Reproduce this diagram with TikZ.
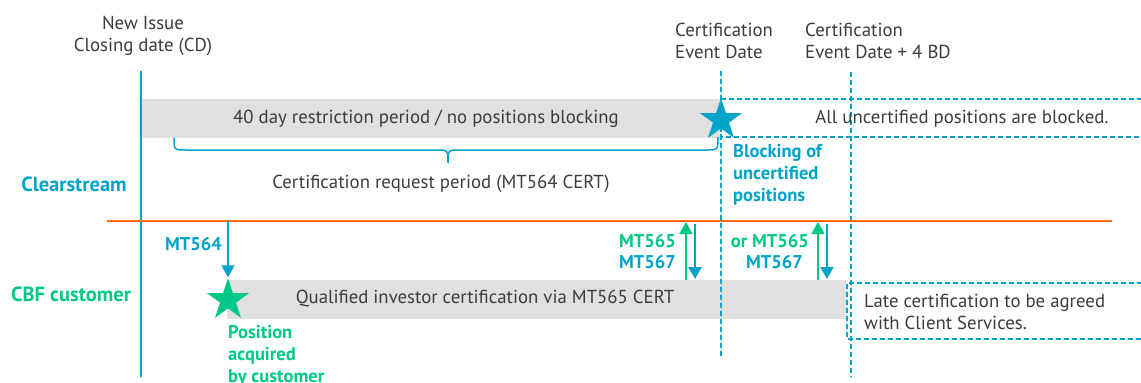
\documentclass[tikz,border=0pt]{standalone}
\usepackage{fontspec}
\setmainfont{PT Sans}
\usetikzlibrary{shapes.geometric,arrows.meta}
\definecolor{csblue}{RGB}{0,164,200}
\definecolor{csgreen}{RGB}{0,200,137}
\definecolor{csorange}{RGB}{255,106,19}
\definecolor{csgrey}{RGB}{224,224,224}
\definecolor{cstext}{RGB}{60,60,60}
\begin{document}
\begin{tikzpicture}[x=1pt,y=-1pt,>={Triangle[width=13pt,length=12pt]},
    every node/.style={font=\fontsize{18.8}{22}\selectfont,text=cstext,inner sep=0pt},
    bar/.style={fill=csgrey,anchor=north west,minimum height=39pt},
    dashline/.style={draw=csblue,line width=1.6pt,dash pattern=on 5pt off 3pt},
    mark5/.style={star,star points=5,star point ratio=2.618,minimum size=44pt},
    lab/.style={font=\fontsize{18.5}{22}\selectfont\bfseries},
    lane/.style={font=\fontsize{20.5}{22}\selectfont\bfseries}]
    \useasboundingbox (0,0) rectangle (1141,383);
    \coordinate (CDtop) at (141,71);
    \coordinate (CDbot) at (141,377);
    \coordinate (CEtop) at (721,71);
    \coordinate (CEbot) at (721,358);
    \coordinate (BDtop) at (851,72);
    \coordinate (BDbot) at (851,377);
    \coordinate (Oleft) at (107,221);
    \coordinate (Oright) at (1112,221);
    % bars and boxes
    \node [bar, minimum width=580pt] (restr) at (141,99) {};
    \node [bar, minimum width=619pt] (qual) at (227,280) {};
    \draw [dashline] (1150,99) -- (721,99) -- (721,137) -- (1150,137);
    \draw [dashline] (1150,283) -- (847,283) -- (847,339) -- (1150,339);
    \draw [dashline] (CEtop) -- (CEbot);
    \draw [dashline] (BDtop) -- (BDbot);
    \draw [line width=2.5pt, csblue] (CDtop) -- (CDbot);
    \draw [line width=2pt, csorange] (Oleft) -- (Oright);
    % brace
    \draw [line width=1.5pt, csblue] (174,138) .. controls (174,150) .. (186,150) -- (436,150)
        .. controls (448,150) .. (448,163) .. controls (448,150) .. (460,150)
        -- (706,150) .. controls (718,150) .. (718,137);
    \node [mark5, fill=csblue] (blk) at (721,120) {};
    \node [mark5, fill=csgreen] (acq) at (228,300) {};
    % arrows
    \coordinate (A564) at (228,221);
    \draw [line width=2pt, csblue, ->] (A564) -- (acq.north);
    \coordinate (U1a) at (686,280);
    \coordinate (U1b) at (686,222);
    \coordinate (D1a) at (695,224);
    \coordinate (D1b) at (695,279);
    \coordinate (U2a) at (818,280);
    \coordinate (U2b) at (818,222);
    \coordinate (D2a) at (827,224);
    \coordinate (D2b) at (827,279);
    \draw [line width=2pt, csgreen, ->] (U1a) -- (U1b);
    \draw [line width=2pt, csblue, ->] (D1a) -- (D1b);
    \draw [line width=2pt, csgreen, ->] (U2a) -- (U2b);
    \draw [line width=2pt, csblue, ->] (D2a) -- (D2b);
    % texts
    \node [align=center] (cd) at (143,36) {New Issue\\Closing date (CD)};
    \node [anchor=west, align=left] (ced) at (675,41) {Certification\\Event Date};
    \node [anchor=west, align=left] (ced4) at (805,41) {Certification\\Event Date + 4 BD};
    \node (restrtxt) at (426,119) {40 day restriction period / no positions blocking};
    \node (reqtxt) at (441,184) {Certification request period (MT564 CERT)};
    \node (qualtxt) at (485,299) {Qualified investor certification via MT565 CERT};
    \node (blocked) at (962,119) {All uncertified positions are blocked.};
    \node [anchor=west, align=left] (late) at (864,312) {Late certification to be agreed\\with Client Services.};
    \node [lane, text=csblue] (cs) at (74,184) {Clearstream};
    \node [lane, text=csgreen] (cbf) at (71,294) {CBF customer};
    \node [lab, text=csblue, anchor=west, align=left] (blktxt) at (733,175) {Blocking of\\uncertified\\positions};
    \node [lab, text=csgreen, anchor=west, align=left] (acqtxt) at (228,356) {Position\\acquired\\by customer};
    \node [lab, text=csblue, anchor=east] (m564) at (222,244) {MT564};
    \node [lab, text=csgreen, anchor=east] (m565a) at (676,241) {MT565};
    \node [lab, text=csblue, anchor=east] (m567a) at (676,262) {MT567};
    \node [lab, text=csgreen, anchor=east] (m565b) at (809,241) {or MT565};
    \node [lab, text=csblue, anchor=east] (m567b) at (803,262) {MT567};
\end{tikzpicture}
\end{document}
